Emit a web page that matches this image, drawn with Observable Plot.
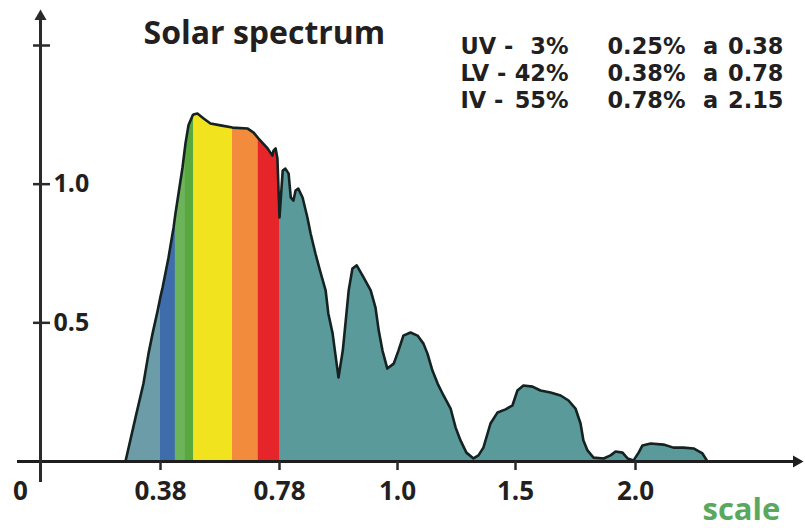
<!DOCTYPE html>
<html>
<head>
<meta charset="utf-8">
<script src="https://cdn.jsdelivr.net/npm/d3@7"></script>
<script src="https://cdn.jsdelivr.net/npm/@observablehq/plot@0.6"></script>
<style>
  body { margin: 0; background: #fff; }
  #chart svg { display: block; }
</style>
</head>
<body>
<div id="chart"></div>
<script>
// ---- data ----
const title = "Solar spectrum";
const axisName = "scale";

// wavelength (µm) and relative irradiance of the spectrum outline
const wavelength = [
  0.269, 0.301, 0.326, 0.342, 0.355, 0.371, 0.38, 0.387, 0.407, 0.424,
  0.430, 0.437, 0.454, 0.464, 0.474, 0.488, 0.491, 0.504, 0.525, 0.548,
  0.582, 0.622, 0.672, 0.693, 0.709, 0.716, 0.740, 0.756, 0.760, 0.767,
  0.773, 0.78, 0.786, 0.791, 0.797, 0.801, 0.806, 0.810, 0.815, 0.823,
  0.832, 0.838, 0.847, 0.856, 0.866, 0.871, 0.879, 0.884, 0.890, 0.898,
  0.903, 0.909, 0.916, 0.924, 0.937, 0.950, 0.959, 0.965, 0.972, 0.981,
  0.993, 1.004, 1.025, 1.055, 1.085, 1.110, 1.127, 1.148, 1.170, 1.195,
  1.225, 1.246, 1.267, 1.292, 1.322, 1.343, 1.364, 1.394, 1.424, 1.458,
  1.487, 1.508, 1.533, 1.571, 1.604, 1.646, 1.688, 1.721, 1.750, 1.771,
  1.783, 1.800, 1.825, 1.867, 1.896, 1.917, 1.946, 1.967, 1.992, 2.013,
  2.029, 2.063, 2.117, 2.158, 2.200, 2.242, 2.279, 2.300
];
const irradiance = [
  0.000, 0.159, 0.281, 0.389, 0.462, 0.544, 0.595, 0.627, 0.736, 0.844,
  0.892, 0.941, 1.060, 1.147, 1.212, 1.248, 1.251, 1.255, 1.237, 1.219,
  1.212, 1.204, 1.201, 1.186, 1.165, 1.157, 1.129, 1.103, 1.121, 1.129,
  1.093, 0.880, 1.049, 1.056, 1.038, 0.952, 0.941, 0.977, 0.984, 0.952,
  0.880, 0.822, 0.750, 0.685, 0.617, 0.534, 0.462, 0.389, 0.303, 0.400,
  0.498, 0.617, 0.696, 0.707, 0.663, 0.617, 0.555, 0.472, 0.400, 0.335,
  0.353, 0.400, 0.454, 0.465, 0.454, 0.425, 0.389, 0.328, 0.281, 0.238,
  0.191, 0.123, 0.076, 0.032, 0.011, 0.022, 0.050, 0.137, 0.177, 0.188,
  0.202, 0.256, 0.274, 0.270, 0.256, 0.249, 0.238, 0.220, 0.191, 0.137,
  0.076, 0.040, 0.014, 0.011, 0.022, 0.036, 0.032, 0.011, 0.004, 0.032,
  0.058, 0.065, 0.061, 0.050, 0.050, 0.047, 0.029, 0.000
];

// colour-band edges (µm) under the curve
const bandEdges = [0.269, 0.38, 0.430, 0.464, 0.491, 0.622, 0.709, 0.78];

const xTicks = [0.38, 0.78, 1.0, 1.5, 2.0];
const xTickLabels = ["0.38", "0.78", "1.0", "1.5", "2.0"];
const originLabel = "0";
const yTicks = [0.5, 1.0, 1.5];
const yTickLabels = ["0.5", "1.0", ""];

const legendBands = ["UV -", "LV -", "IV -"];
const legendShares = ["3%", "42%", "55%"];
const legendFrom = ["0.25%", "0.38%", "0.78%"];
const legendWord = ["a", "a", "a"];
const legendTo = ["0.38", "0.78", "2.15"];

// ---- styles ----
const bandColors = ["#6b9ca8", "#3f6dab", "#6cb35a", "#58a83e", "#f1e31d", "#f28b3b", "#e6252a"];
const teal = "#5b9a9b";
const ink = "#231f20";
const font = "'Open Sans', sans-serif";
const legendFont = "'DejaVu Sans', sans-serif";

const spectrum = wavelength.map((x, i) => ({x, y: irradiance[i]}));
const bands = bandEdges.slice(0, -1).map((x0, i) => ({x0, x1: bandEdges[i + 1], color: bandColors[i]}));

const label = (txt, opts) => Plot.text([txt], {
  frameAnchor: "top-left", lineAnchor: "bottom",
  fontFamily: font, fontWeight: 700, fill: ink, ...opts
});
// one text mark per legend cell, rows 27px apart
const legendCol = (arr, opts) => arr.map((t, row) =>
  label(t, {fontSize: 22.5, fontFamily: legendFont, ...opts, dy: 53 + 27 * row}));

const chart = Plot.plot({
  width: 805,
  height: 528,
  margin: 0,
  style: {fontFamily: font, background: "#fff", overflow: "visible"},
  x: {type: "linear", domain: [0, 0.38, 0.78, 1.0, 1.5, 2.0, 2.5],
      range: [40, 160, 279, 397, 515, 635, 755], axis: null},
  y: {domain: [0, 1.5], range: [461, 45], axis: null},
  marks: [
    Plot.areaY(spectrum, {x: "x", y: "y", fill: teal}),
    ...bands.map(b => Plot.areaY(
      spectrum.filter(d => d.x >= b.x0 - 1e-9 && d.x <= b.x1 + 1e-9),
      {x: "x", y: "y", fill: b.color})),
    Plot.line(spectrum, {x: "x", y: "y", stroke: "#152222", strokeWidth: 2.6, strokeLinejoin: "round"}),
    // axes
    Plot.ruleY([0], {stroke: "#1e1e1e", strokeWidth: 3, insetLeft: 17, insetRight: 10}),
    Plot.ruleX([0], {stroke: "#2a2a2a", strokeWidth: 3, insetTop: 14, insetBottom: 46}),
    Plot.dot([0], {y: 0, frameAnchor: "right", dx: -9, symbol: "triangle", rotate: 90, r: 4.5, fill: "#1e1e1e"}),
    Plot.dot([0], {x: 0, frameAnchor: "top", dy: 16, symbol: "triangle", r: 4.5, fill: "#2a2a2a"}),
    Plot.ruleY(yTicks, {x1: 0, x2: 0, insetLeft: -7, insetRight: -10, stroke: "#2a2a2a", strokeWidth: 2.5}),
    Plot.ruleX(xTicks, {y1: 0, y2: 0, insetTop: 0, insetBottom: -9, stroke: "#2a2a2a", strokeWidth: 2.5}),
    // tick labels
    Plot.text(xTicks, {x: d => d, y: 0, text: (d, i) => xTickLabels[i], dy: 38, lineAnchor: "bottom",
      fontSize: 26, fontWeight: 700, fill: ink}),
    Plot.text([originLabel], {x: 0, y: 0, dx: -20, dy: 38, lineAnchor: "bottom",
      fontSize: 26, fontWeight: 700, fill: ink}),
    Plot.text(yTicks, {x: 0, y: d => d, text: (d, i) => yTickLabels[i], dx: 13, textAnchor: "start",
      fontSize: 25, fontWeight: 700, fill: ink}),
    // title, legend, axis name
    label(title, {dx: 143, dy: 43, fontSize: 32, textAnchor: "start"}),
    ...legendCol(legendBands, {dx: 460, textAnchor: "start"}),
    ...legendCol(legendShares, {dx: 568, textAnchor: "end"}),
    ...legendCol(legendFrom, {dx: 646, textAnchor: "middle"}),
    ...legendCol(legendWord, {dx: 710, textAnchor: "middle"}),
    ...legendCol(legendTo, {dx: 783, textAnchor: "end"}),
    label(axisName, {dx: 702, dy: 519, fontSize: 31, textAnchor: "start", fill: "#5aa85e"})
  ]
});
document.getElementById("chart").append(chart);
</script>
</body>
</html>
